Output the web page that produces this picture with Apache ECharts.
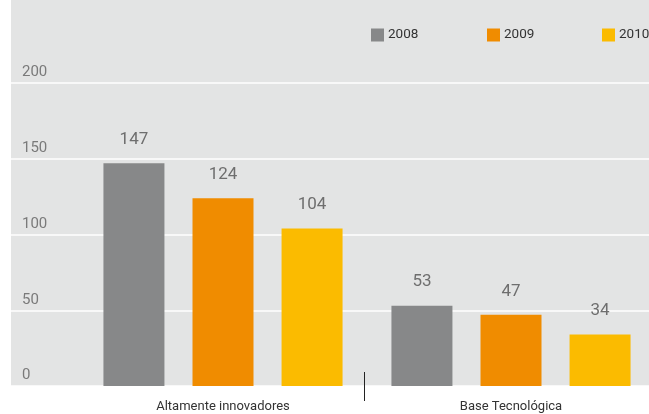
<!DOCTYPE html>
<html><head><meta charset="utf-8">
<script src="https://cdn.jsdelivr.net/npm/echarts@6/dist/echarts.min.js"></script>
<style>html,body{margin:0;padding:0;background:#fff}#c{width:649px;height:414px}</style>
</head><body><div id="c"></div>
<script>
const categories = ['Altamente innovadores', 'Base Tecnológica'];
const years = ['2008', '2009', '2010'];
const values2008 = [147, 53];
const values2009 = [124, 47];
const values2010 = [104, 34];
const yMin = 0, yMax = 200, yInterval = 50;

const colors = ['#878889', '#f08c00', '#fbbb00'];
const FONT = 'Roboto, "Liberation Sans", sans-serif';
const legendLefts = [371, 487, 602];

const chart = echarts.init(document.getElementById('c'), null, {renderer: 'canvas'});
const seriesData = [values2008, values2009, values2010];

const option = {
  animation: false,
  backgroundColor: '#ffffff',
  color: colors,
  textStyle: {fontFamily: FONT},
  legend: years.map((y, i) => ({
    left: legendLefts[i], top: 28, padding: 0,
    icon: 'rect', itemWidth: 13, itemHeight: 13, itemGap: 0,
    textStyle: {fontSize: 13.5, color: '#333', fontFamily: FONT, padding: [0, 0, 0, -1]},
    data: [y]
  })),
  grid: [
    {left: 11, right: 0, top: 83, bottom: 28},
    {left: 79, width: 576, top: 83, bottom: 28, outerBoundsMode: 'none'}
  ],
  xAxis: [
    {gridIndex: 0, type: 'value', min: 0, max: 1, show: false},
    {gridIndex: 1, type: 'category', data: categories,
      axisLine: {show: false}, axisTick: {show: false},
      axisLabel: {margin: 14, fontSize: 13, color: '#333', fontFamily: FONT}}
  ],
  yAxis: [
    {gridIndex: 0, type: 'value', min: yMin, max: yMax, interval: yInterval,
      axisLine: {show: false}, axisTick: {show: false},
      splitLine: {show: true, lineStyle: {color: '#ffffff', width: 1.5}},
      axisLabel: {inside: true, margin: 11, verticalAlign: 'bottom', padding: [0, 0, 3, 0], fontSize: 15, color: '#7a7a7a', fontFamily: FONT}},
    {gridIndex: 1, type: 'value', min: yMin, max: yMax, interval: yInterval, show: false, splitLine: {show: false}}
  ],
  series: years.map((y, i) => ({
    name: y, type: 'bar', xAxisIndex: 1, yAxisIndex: 1,
    data: seriesData[i], barWidth: 61, barGap: '46%',
    itemStyle: {color: colors[i]},
    label: {show: true, position: 'top', distance: 15, fontSize: 17, color: '#6e6e6e', fontFamily: FONT}
  })),
  graphic: [{
    type: 'rect', z: -100, silent: true,
    shape: {x: 11, y: 0, width: 638, height: 386},
    style: {fill: '#e3e4e4'}
  }]
};
chart.setOption(option);

// category divider tick, positioned from the axis scale
const p0 = chart.convertToPixel({xAxisIndex: 1, yAxisIndex: 1}, [0, 0]);
const p1 = chart.convertToPixel({xAxisIndex: 1, yAxisIndex: 1}, [1, 0]);
const mx = Math.round((p0[0] + p1[0]) / 2) - 2.5;
chart.setOption({graphic: [{}, {
  type: 'line', silent: true, z: 100,
  shape: {x1: mx, y1: p0[1] - 14, x2: mx, y2: p0[1] + 15},
  style: {stroke: '#222', lineWidth: 1}
}]});
</script></body></html>
